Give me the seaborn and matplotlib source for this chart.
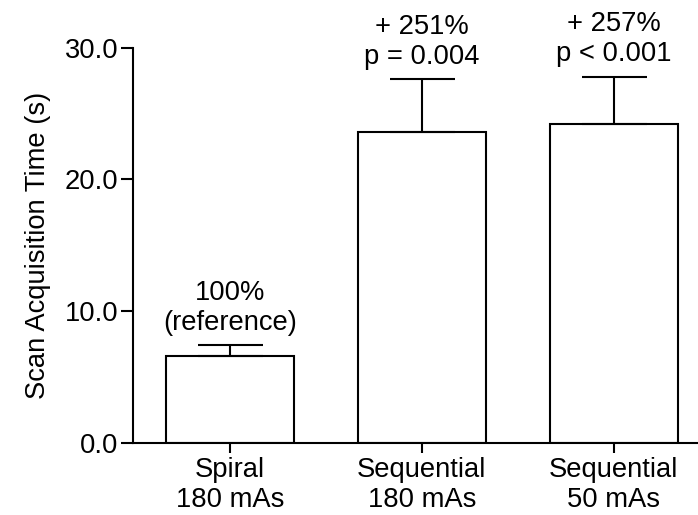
import numpy as np
import pandas as pd
import matplotlib
matplotlib.use("Agg")
import matplotlib.pyplot as plt
import seaborn as sns

# Scan acquisition time per protocol (mean and SD, seconds)
categories = ["Spiral\n180 mAs", "Sequential\n180 mAs", "Sequential\n50 mAs"]
mean_time = [6.6, 23.6, 24.2]
sd_time = [0.8, 4.0, 3.6]
bar_labels = ["100%\n(reference)", "+ 251%\np = 0.004", "+ 257%\np < 0.001"]
y_ticks = [0.0, 10.0, 20.0, 30.0]

df = pd.DataFrame({"protocol": categories, "time": mean_time, "sd": sd_time})

sns.set_style("ticks")
plt.rcParams["font.family"] = ["Liberation Sans", "DejaVu Sans"]
plt.rcParams["text.color"] = "black"
plt.rcParams["axes.labelcolor"] = "black"
FS = 19.7
LS = 1.2

fig = plt.figure(figsize=(6.98, 5.15), dpi=100)
ax = fig.add_axes([0.1905, 0.1405, 0.8095, 0.7665])

sns.barplot(data=df, x="protocol", y="time", order=categories, ax=ax,
            color="white", edgecolor="black", linewidth=1.5, width=0.667,
            errorbar=None, saturation=1)

xs = np.arange(len(categories))
ax.errorbar(xs, df["time"], yerr=[np.zeros(len(xs)), df["sd"]], fmt="none",
            ecolor="black", elinewidth=1.5, capsize=23.4, capthick=1.5, zorder=1)

for x, m, s, lab in zip(xs, mean_time, sd_time, bar_labels):
    ax.annotate(lab, xy=(x, m + s), xytext=(0, 7), textcoords="offset points",
                ha="center", va="bottom", fontsize=FS, linespacing=LS,
                color="black")

ax.set_xlim(-0.505, 2.44)
ax.set_ylim(0, 30)
ax.set_yticks(y_ticks)
ax.set_yticklabels([f"{t:.1f}" for t in y_ticks], fontsize=FS, color="black")
ax.set_xticks(xs)
ax.set_xticklabels(categories, fontsize=FS, linespacing=LS, color="black")
ax.set_xlabel("")
ax.set_ylabel("Scan Acquisition Time (s)", fontsize=FS, labelpad=10, color="black")

for side in ["top", "right"]:
    ax.spines[side].set_visible(False)
for side in ["left", "bottom"]:
    ax.spines[side].set_linewidth(1.5)
    ax.spines[side].set_color("black")
ax.spines["bottom"].set_clip_on(False)
ax.tick_params(axis="y", length=8.5, width=1.5, pad=2, colors="black")
ax.tick_params(axis="x", length=7.5, width=1.5, pad=3, colors="black")

fig.savefig("out.png", dpi=100, facecolor="white")
